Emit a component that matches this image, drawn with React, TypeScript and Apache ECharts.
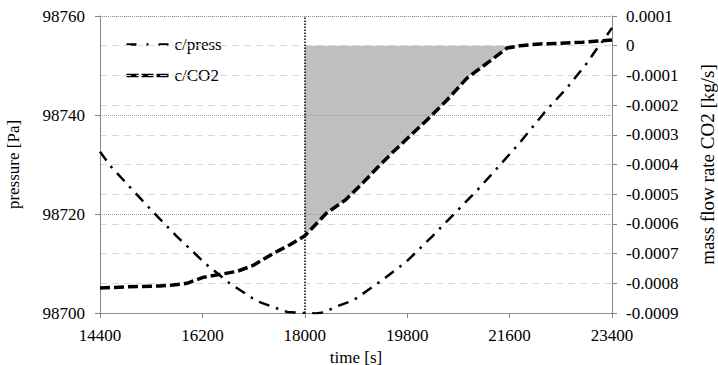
import React, { useEffect, useRef } from "react";
import * as echarts from "echarts";

// time axis [s]
const timeTicks = [14400, 16200, 18000, 19800, 21600, 23400];

// c/press — cell pressure [Pa]
const pressTime = [
  14400, 14575, 14960, 15350, 15740, 16260, 16690, 17160, 17690, 18000, 18200,
  18360, 18530, 18860, 19320, 19780, 20250, 20640, 21030, 21400, 21770, 22220,
  22610, 22960, 23140, 23280, 23400,
];
const pressValue = [
  98732.6, 98729.8, 98725.0, 98720.2, 98715.6, 98709.9, 98705.9, 98702.4,
  98700.2, 98700.0, 98699.9, 98700.2, 98701.2, 98702.6, 98706.3, 98710.3,
  98715.6, 98720.2, 98724.8, 98729.5, 98734.3, 98740.6, 98745.5, 98750.5,
  98753.5, 98755.6, 98757.6,
];

// c/CO2 — mass flow rate of CO2 [kg/s]
const co2Time = [
  14400, 14875, 15455, 15683, 15929, 16210, 16509, 16808, 17089, 17441, 17740,
  18000, 18380, 18710, 19020, 19270, 19550, 20148, 20500, 20851, 21203, 21554,
  21783, 22130, 22486, 22890, 23400,
];
const co2Value = [
  -0.000816, -0.000812, -0.000809, -0.000806, -0.0008, -0.00078, -0.00077,
  -0.00076, -0.00074, -0.0007, -0.00067, -0.00064, -0.000564, -0.00052,
  -0.000462, -0.000412, -0.000358, -0.00025, -0.000183, -0.000109, -0.000059,
  -0.000008, 0.0, 0.000006, 0.000008, 0.000012, 0.000019,
];

// window shaded between the CO2 curve and zero
const shadeStart = 18000;
const shadeEnd = 21783;

const seriesNames = ["c/press", "c/CO2"];

const FONT = "Liberation Serif";
const FONT_SIZE = 17;

export default function App() {
  const ref = useRef<HTMLDivElement>(null);

  useEffect(() => {
    if (!ref.current) return;
    const chart = echarts.init(ref.current, undefined, { renderer: "svg" });

    const pressData = pressTime.map((t, i) => [t, pressValue[i]]);
    const co2Data = co2Time.map((t, i) => [t, co2Value[i]]);
    const shadeData = co2Data.filter(
      ([t]) => t >= shadeStart && t <= shadeEnd
    );

    const pressDash = [11, 7, 2.5, 7];
    const co2Dash = [10, 4];

    const axisLine = {
      show: true,
      onZero: false,
      lineStyle: { color: "#868686", width: 1 },
    };
    const axisTick = {
      show: true,
      inside: false,
      length: 5,
      lineStyle: { color: "#868686" },
    };
    const labelStyle = { color: "#000", fontFamily: FONT, fontSize: FONT_SIZE };

    // hand-drawn legend: line sample + label per series
    const legendItem = (name: string, y: number, dash: number[], width: number) => ({
      type: "group",
      left: 124,
      top: y - 10,
      children: [
        {
          type: "line",
          shape: { x1: 0, y1: 10, x2: 42, y2: 10 },
          style: { stroke: "#000", lineWidth: width, lineDash: dash },
        },
        {
          type: "text",
          x: 48,
          y: 10,
          style: {
            text: name,
            fill: "#000",
            fontFamily: FONT,
            fontSize: FONT_SIZE,
            verticalAlign: "middle",
          },
        },
      ],
    });

    chart.setOption({
      animation: false,
      backgroundColor: "#fff",
      textStyle: { fontFamily: FONT, fontSize: FONT_SIZE },
      grid: {
        left: 100,
        right: 106,
        top: 16,
        bottom: 52,
        containLabel: false,
        outerBoundsMode: "none",
      },
      graphic: [
        legendItem(seriesNames[0], 46, [10, 10, 2, 10], 2.5),
        legendItem(seriesNames[1], 77, [12, 3], 3.5),
      ],
      xAxis: {
        type: "value",
        min: timeTicks[0],
        max: timeTicks[timeTicks.length - 1],
        interval: timeTicks[1] - timeTicks[0],
        name: "time [s]",
        nameLocation: "middle",
        nameGap: 25,
        nameTextStyle: { ...labelStyle, lineHeight: 17 },
        axisLine,
        axisTick,
        axisLabel: { ...labelStyle, margin: 14, formatter: (v: number) => String(v) },
        splitLine: { show: false },
      },
      yAxis: [
        {
          type: "value",
          position: "left",
          min: 98700,
          max: 98760,
          interval: 20,
          name: "pressure [Pa]",
          nameLocation: "middle",
          nameRotate: 90,
          nameGap: 78,
          nameTextStyle: labelStyle,
          axisLine,
          axisTick,
          axisLabel: { ...labelStyle, margin: 15, formatter: (v: number) => String(v) },
          splitLine: {
            show: true,
            lineStyle: { color: "#9a9a9a", width: 1, type: [1, 1] },
          },
          z: 3,
        },
        {
          type: "value",
          position: "right",
          min: -0.0009,
          max: 0.0001,
          interval: 0.0001,
          name: "mass flow rate CO2 [kg/s]",
          nameLocation: "middle",
          nameRotate: 90,
          nameGap: 86,
          nameTextStyle: { ...labelStyle, fontSize: 19 },
          axisLine,
          axisTick,
          axisLabel: {
            ...labelStyle,
            margin: 14,
            formatter: (v: number) => {
              const r = Math.round(v * 10000) / 10000;
              return r === 0 ? "0" : r.toFixed(4);
            },
          },
          splitLine: {
            show: true,
            lineStyle: { color: "#d9d9d9", width: 1, type: [7, 5] },
          },
        },
      ],
      series: [
        {
          name: "shade",
          type: "line",
          yAxisIndex: 1,
          data: shadeData,
          symbol: "none",
          silent: true,
          lineStyle: { width: 0, opacity: 0 },
          areaStyle: { color: "#bfbfbf", opacity: 1 },
          z: 1,
        },
        {
          name: seriesNames[0],
          type: "line",
          yAxisIndex: 0,
          data: pressData,
          symbol: "none",
          lineStyle: { color: "#000", width: 2.5, type: pressDash },
          z: 4,
          markLine: {
            silent: true,
            symbol: "none",
            label: { show: false },
            lineStyle: { color: "#000", width: 1.5, type: [1.5, 1.5] },
            data: [{ xAxis: shadeStart }],
          },
        },
        {
          name: seriesNames[1],
          type: "line",
          yAxisIndex: 1,
          data: co2Data,
          symbol: "none",
          lineStyle: { color: "#000", width: 3.5, type: co2Dash },
          z: 5,
        },
      ],
    });

    return () => chart.dispose();
  }, []);

  return (
    <div
      ref={ref}
      style={{ position: "absolute", left: 0, top: 0, width: 718, height: 365 }}
    />
  );
}
